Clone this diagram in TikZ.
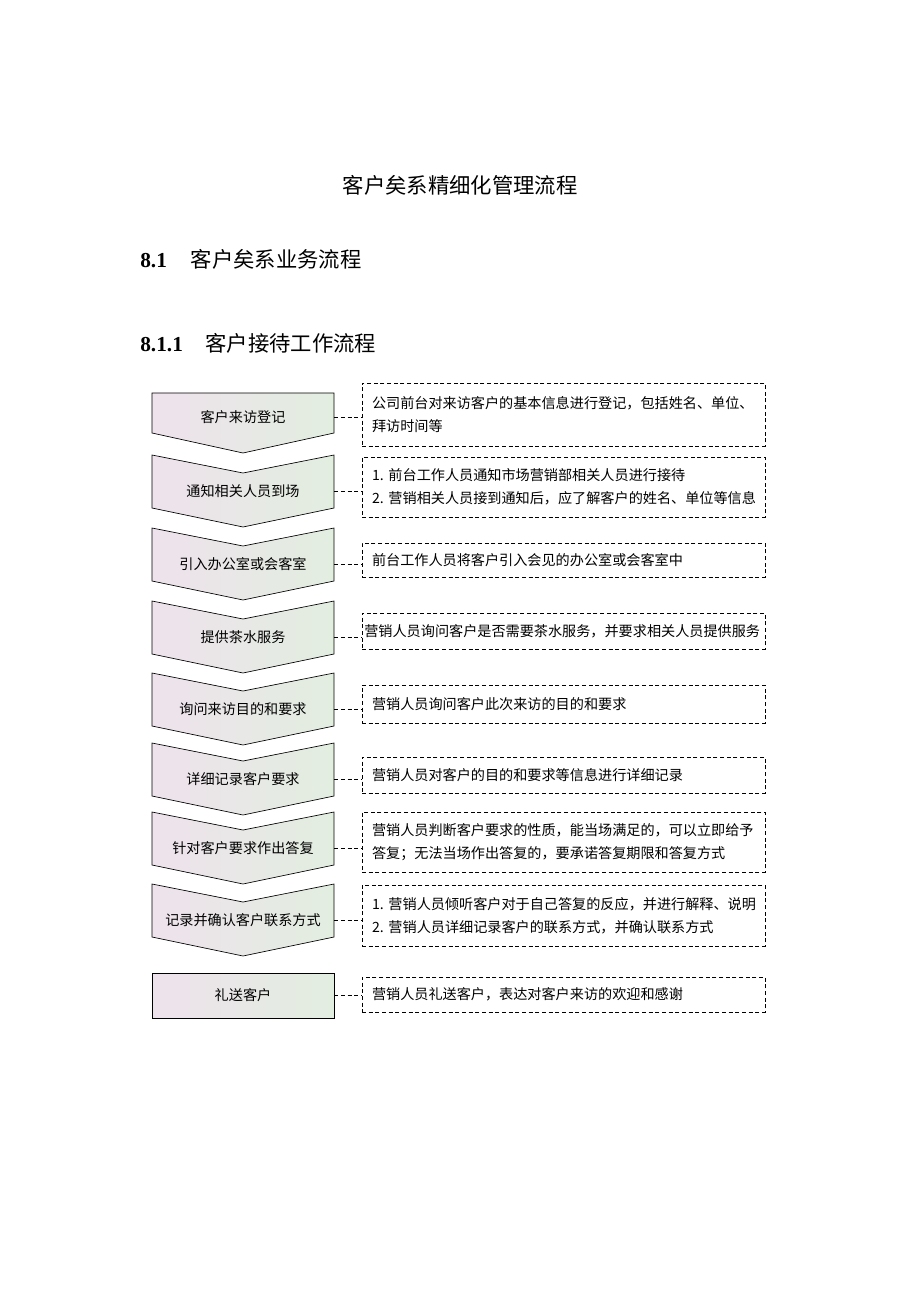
\documentclass[tikz,border=0pt]{standalone}
\usepackage{fontspec}
\setmainfont{Liberation Serif}
\newfontfamily\cjk{Noto Sans CJK SC}
\usetikzlibrary{positioning, calc, backgrounds}
\definecolor{chevpink}{RGB}{238, 226, 236}
\definecolor{chevgreen}{RGB}{226, 238, 224}

% chevron outline round a step node: name, top, notch, side, tip
\newcommand{\chevpath}[5]{\path[chevline] ($(#1)+(-91,#2)$) -- ($(#1)+(0,#3)$) -- ($(#1)+(91,#2)$)
  -- ($(#1)+(91,#4)$) -- ($(#1)+(0,#5)$) -- ($(#1)+(-91,#4)$) -- cycle;}

\begin{document}
\begin{tikzpicture}[x=0.75pt, y=-0.75pt,
    chevline/.style={draw=black, line width=0.5pt, left color=chevpink, right color=chevgreen},
    stepbox/.style={rectangle, minimum width=136.5pt, minimum height=20pt, inner sep=0pt,
                    font=\cjk\fontsize{10.6}{17}\selectfont},
    note/.style={rectangle, draw, line width=0.5pt, dash pattern=on 3pt off 2pt,
                 text width=287.25pt, inner xsep=7.5pt, inner ysep=0pt, align=left,
                 font=\cjk\fontsize{10.6}{17.4}\selectfont},
    link/.style={line width=0.5pt, dash pattern=on 3pt off 2pt}]
    \useasboundingbox (0,0) rectangle (920,1302);

    % Headings
    \node[font=\cjk\fontsize{16}{19}\selectfont] (title) at (460,185) {客户矣系精细化管理流程};
    \node[anchor=west, inner sep=0pt, font=\fontsize{16}{19}\selectfont] (sec) at (140,259)
        {\textbf{8.1}\hspace{18pt}{\cjk 客户矣系业务流程}};
    \node[anchor=west, inner sep=0pt, font=\fontsize{16}{19}\selectfont] (subsec) at (140,343)
        {\textbf{8.1.1}\hspace{17pt}{\cjk 客户接待工作流程}};

    % Steps
    \node[stepbox] (visit) at (243,417) {客户来访登记};
    \node[stepbox] (notify) at (243,491) {通知相关人员到场};
    \node[stepbox] (office) at (243,564) {引入办公室或会客室};
    \node[stepbox] (tea) at (243,637) {提供茶水服务};
    \node[stepbox] (ask) at (243,709) {询问来访目的和要求};
    \node[stepbox] (record) at (243,779) {详细记录客户要求};
    \node[stepbox] (reply) at (243,848) {针对客户要求作出答复};
    \node[stepbox] (confirm) at (243,920) {记录并确认客户联系方式};
    \node[stepbox, draw, line width=0.5pt, left color=chevpink, right color=chevgreen,
          minimum height=33.75pt] (bye) at (243,995.5) {礼送客户};

    \begin{scope}[on background layer]
        \chevpath{visit}{-24}{-24}{16}{36}
        \foreach \s in {notify, office, tea, ask, record, reply, confirm}
            {\chevpath{\s}{-36}{-18}{17}{36}}
    \end{scope}

    % Notes
    \node[note, minimum height=47.25pt] (nvisit) at (563.5,414.5)
        {公司前台对来访客户的基本信息进行登记，包括姓名、单位、\\拜访时间等};
    \node[note, minimum height=45pt] (nnotify) at (563.5,487)
        {1.\ 前台工作人员通知市场营销部相关人员进行接待\\2.\ 营销相关人员接到通知后，应了解客户的姓名、单位等信息};
    \node[note, minimum height=25.5pt] (noffice) at (563.5,560)
        {前台工作人员将客户引入会见的办公室或会客室中};
    \node[note, minimum height=27pt, text width=300.75pt, inner xsep=0.75pt] (ntea) at (563.5,631)
        {\hspace*{1pt}营销人员询问客户是否需要茶水服务，并要求相关人员提供服务};
    \node[note, minimum height=28.5pt] (nask) at (563.5,704)
        {营销人员询问客户此次来访的目的和要求};
    \node[note, minimum height=27pt] (nrecord) at (563.5,775)
        {营销人员对客户的目的和要求等信息进行详细记录};
    \node[note, minimum height=45pt] (nreply) at (563.5,842)
        {营销人员判断客户要求的性质，能当场满足的，可以立即给予\\答复；无法当场作出答复的，要承诺答复期限和答复方式};
    \node[note, minimum height=45.75pt] (nconfirm) at (563.5,915.5)
        {1.\ 营销人员倾听客户对于自己答复的反应，并进行解释、说明\\2.\ 营销人员详细记录客户的联系方式，并确认联系方式};
    \node[note, minimum height=26.25pt] (nbye) at (563.5,994.5)
        {营销人员礼送客户，表达对客户来访的欢迎和感谢};

    % Connections
    \foreach \s in {visit, notify, office, tea, ask, record, reply, confirm, bye}
        \draw[link] (\s.east) -- (\s.east -| n\s.west);
\end{tikzpicture}
\end{document}
